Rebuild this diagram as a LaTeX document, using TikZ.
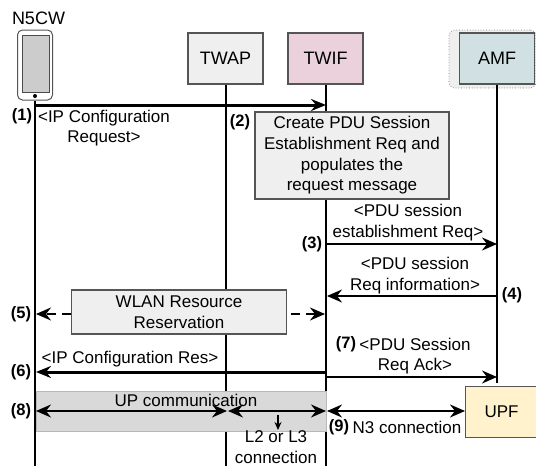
\documentclass[tikz,border=0pt]{standalone}
\usepackage{fontspec}
\setmainfont{Liberation Sans}
\usepackage{tikz}
\usetikzlibrary{arrows.meta}
\definecolor{boxgrey}{HTML}{EFEFEF}
\definecolor{edgegrey}{HTML}{555555}
\definecolor{twifpink}{HTML}{EAD1DC}
\definecolor{amfblue}{HTML}{D0E0E3}
\definecolor{upfyellow}{HTML}{FFF2CC}
\definecolor{bandgrey}{HTML}{D9D9D9}
\tikzstyle{head} = [rectangle, minimum width=75pt, minimum height=51pt, inner sep=0pt,
font=\fontsize{18}{20}\selectfont, draw=edgegrey, line width=1.2pt]
\tikzstyle{note} = [rectangle, inner sep=0pt, align=center, draw=edgegrey, line width=1.2pt, fill=boxgrey,
font=\fontsize{17}{20.7}\selectfont]
\tikzstyle{lbl} = [inner sep=0pt, align=center, font=\fontsize{17}{20.7}\selectfont]
\tikzstyle{num} = [inner sep=0pt, font=\fontsize{16.5}{20}\selectfont\bfseries]
\tikzstyle{life} = [line width=2pt]
\tikzstyle{arrow} = [line width=2pt,-{Stealth[length=15pt,width=13pt,inset=5pt]}]
\tikzstyle{arrowthick} = [line width=3pt,-{Stealth[length=15pt,width=12pt,inset=5pt]}]
\tikzstyle{both} = [line width=2pt,{Stealth[length=15pt,width=13pt,inset=5pt]}-{Stealth[length=15pt,width=13pt,inset=5pt]}]

\begin{document}
\begin{tikzpicture}[x=1pt,y=-1pt,node distance=100pt]
\useasboundingbox (0,0) rectangle (536,466);

\node (bg)[rectangle, rounded corners=6pt, dotted, draw=black!55, line width=0.7pt, fill=boxgrey, minimum width=87pt, minimum height=58pt, inner sep=0pt] at (492.5,59){};
\node (twap)[head, fill=boxgrey] at (225.5,58.5){TWAP};
\node (twif)[head, fill=twifpink, right of=twap]{TWIF};
\node (amf)[head, fill=amfblue, right of=twif, xshift=71.5pt]{AMF};
\node (phone)[rectangle, rounded corners=5pt, draw=edgegrey, line width=1pt, fill=white, minimum width=35pt, minimum height=70pt, inner sep=0pt] at (35,65){};
\node (screen)[rectangle, draw=black!70, line width=0.8pt, fill=black!20, minimum width=27pt, minimum height=57pt, inner sep=0pt] at (35.5,63.5){};
\node (dot)[circle, fill=black, minimum size=4pt, inner sep=0pt] at (35,96){};
\node (ue)[lbl, font=\fontsize{18}{20}\selectfont] at (38.5,18){N5CW};

\coordinate (endue) at (35,466);
\coordinate (endtwap) at (226,466);
\coordinate (endtwif) at (326,466);
\coordinate (endamf) at (497,383);
\draw [life](twap.south -| endtwap) -- (endtwap);
\draw [life](twif.south -| endtwif) -- (endtwif);
\draw [life](amf.south) -- (endamf);

\node (create)[note, minimum width=194pt, minimum height=87pt] at (352,155.5){Create PDU Session\\Establishment Req and\\populates the\\request message};
\node (wlan)[note, minimum width=214.5pt, minimum height=44pt] at (179,312){WLAN Resource\\Reservation};
\node (band)[rectangle, draw=black!28, line width=1pt, fill=bandgrey, minimum width=290pt, minimum height=40pt, inner sep=0pt] at (181,411){};
\draw [life](phone.south) -- (endue);
\node (upf)[head, fill=upfyellow, anchor=west, minimum width=72pt] at (465,412){\fontsize{17}{20}\selectfont UPF};

\coordinate (a1) at (35,105);
\coordinate (b1) at (326,105);
\coordinate (a3) at (326,244);
\coordinate (b3) at (497,244);
\coordinate (a4) at (497,296);
\coordinate (b4) at (327,296);
\coordinate (a5) at (36,314);
\coordinate (b5) at (325,314);
\coordinate (a6) at (326,372);
\coordinate (b6) at (36,372);
\coordinate (a7) at (326,377);
\coordinate (b7) at (497,377);
\coordinate (a8) at (36,411);
\coordinate (b8) at (227,411);
\coordinate (c8) at (228,411);
\coordinate (d8) at (326,411);
\coordinate (a9) at (327,411);
\coordinate (d1) at (278,415);
\coordinate (d2) at (278,430);

\draw [arrowthick](a1) -- (b1);
\draw [arrow](a3) -- (b3);
\draw [arrow](a4) -- (b4);
\draw [arrow, dashed, dash pattern=on 9pt off 6pt](wlan.west |- b5) -- (a5);
\draw [arrow, dashed, dash pattern=on 9pt off 6pt](wlan.east |- b5) ++(4,0) coordinate (w5) -- (b5);
\draw [arrowthick](a6) -- (b6);
\draw [arrow](a7) -- (b7);
\draw [both](a8) -- (b8);
\draw [both](c8) -- (d8);
\draw [both](a9) -- (upf.west |- a9);
\draw [line width=1.4pt,-{Stealth[length=8pt,width=7pt]}](d1) -- (d2);

\node (n1)[num] at (22,116){(1)};
\node (n2)[num] at (240,122){(2)};
\node (n3)[num] at (312,244){(3)};
\node (n4)[num] at (512,295){(4)};
\node (n5)[num] at (21,314){(5)};
\node (n6)[num] at (21,372){(6)};
\node (n7)[num] at (346,344){(7)};
\node (n8)[num] at (21,411){(8)};
\node (n9)[num] at (339,427){(9)};

\node (m1)[lbl] at (104,128){<IP Configuration\\Request>};
\node (m3)[lbl] at (408,222.5){<PDU session\\establishment Req>};
\node (m4)[lbl] at (415,275.5){<PDU session\\Req information>};
\node (m6)[lbl] at (130,359){<IP Configuration Res>};
\node (m7)[lbl] at (415,356){<PDU Session\\Req Ack>};
\node (m8)[lbl] at (186,400){UP communication};
\node (m9)[lbl] at (407,427){N3 connection};
\node (m10)[lbl] at (276,447){L2 or L3\\connection};
\end{tikzpicture}
\end{document}
